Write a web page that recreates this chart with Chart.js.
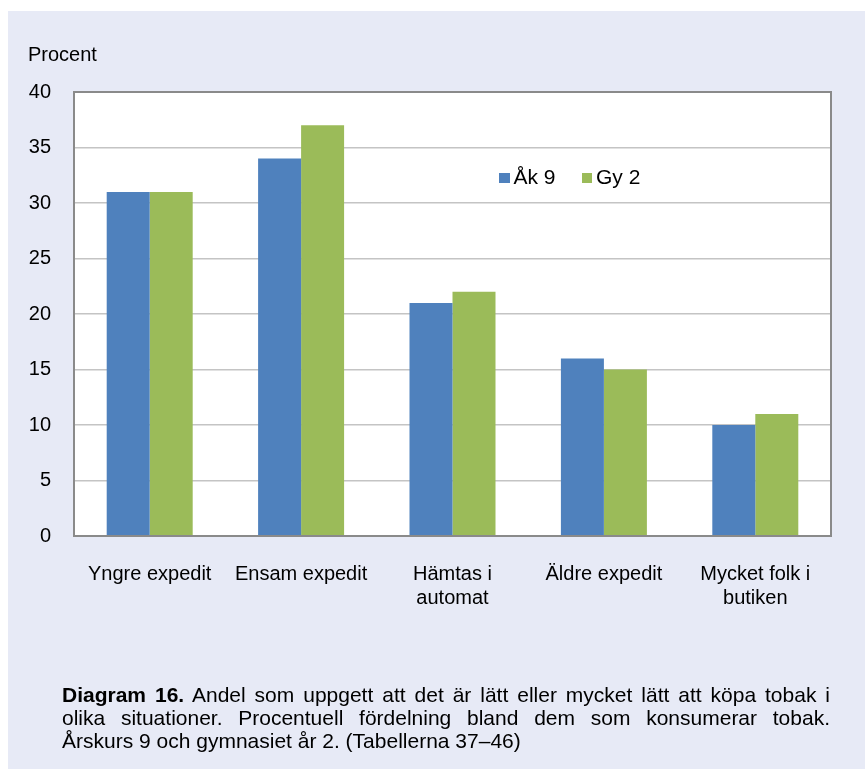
<!DOCTYPE html>
<html><head><meta charset="utf-8">
<script src="https://cdn.jsdelivr.net/npm/chart.js@4/dist/chart.umd.min.js"></script>
<style>
html,body{margin:0;padding:0;background:#fff;}
#wrap{position:relative;width:865px;height:769px;overflow:hidden;font-family:"Liberation Sans",Arial,sans-serif;color:#000;}
#bg{position:absolute;left:8px;top:11px;right:0;bottom:0;background:#E7EAF6;}
canvas{position:absolute;left:0;top:0;}
#ytitle{position:absolute;left:28px;top:44px;font-size:20px;line-height:20px;white-space:nowrap;}
#legend{position:absolute;left:499px;top:165.5px;font-size:21px;line-height:21px;display:flex;white-space:nowrap;}
#legend .item{display:flex;align-items:flex-start;margin-right:26px;}
#legend .sw{width:10.5px;height:10.5px;margin-top:7px;margin-right:4px;}
#cap{position:absolute;left:62px;top:682.5px;width:768px;font-size:21px;line-height:23.3px;}
#cap .j{text-align:justify;text-align-last:justify;}
</style></head>
<body>
<div id="wrap">
  <div id="bg"></div>
  <canvas id="c" width="865" height="769"></canvas>
  <div id="ytitle">Procent</div>
  <div id="legend"></div>
  <div id="cap">
    <div class="j"><b>Diagram 16.</b> Andel som uppgett att det är lätt eller mycket lätt att köpa tobak i</div>
    <div class="j">olika situationer. Procentuell fördelning bland dem som konsumerar tobak.</div>
    <div>Årskurs 9 och gymnasiet år 2. (Tabellerna 37–46)</div>
  </div>
</div>
<script>
// ---- data ----
const categories = [["Yngre expedit"], ["Ensam expedit"], ["Hämtas i", "automat"], ["Äldre expedit"], ["Mycket folk i", "butiken"]];
const seriesNames = ["Åk 9", "Gy 2"];
const ak9 = [31, 34, 21, 16, 10];
const gy2 = [31, 37, 22, 15, 11];
const yMin = 0, yMax = 40, yStep = 5;
const yTitle = "Procent";

// ---- styles ----
const colors = ["#4F81BD", "#9BBB59"];

// legend (HTML)
const leg = document.getElementById('legend');
seriesNames.forEach((n, i) => {
  const it = document.createElement('div'); it.className = 'item';
  const sw = document.createElement('div'); sw.className = 'sw'; sw.style.background = colors[i];
  const tx = document.createElement('span'); tx.textContent = n;
  it.appendChild(sw); it.appendChild(tx); leg.appendChild(it);
});
document.getElementById('ytitle').textContent = yTitle;

const plotFrame = {
  id: 'plotFrame',
  beforeDraw(chart) {
    const a = chart.chartArea, ctx = chart.ctx;
    ctx.save(); ctx.fillStyle = '#ffffff';
    ctx.fillRect(a.left, a.top, a.right - a.left, a.bottom - a.top);
    ctx.restore();
  },
  afterDatasetsDraw(chart) {
    const a = chart.chartArea, ctx = chart.ctx;
    ctx.save(); ctx.strokeStyle = '#8a8a8a'; ctx.lineWidth = 2;
    ctx.strokeRect(a.left, a.top, a.right - a.left, a.bottom - a.top);
    ctx.restore();
  }
};

Chart.defaults.font.family = "'Liberation Sans', Arial, sans-serif";
Chart.defaults.color = '#000';

new Chart(document.getElementById('c'), {
  type: 'bar',
  data: {
    labels: categories,
    datasets: [
      { label: seriesNames[0], data: ak9, backgroundColor: colors[0] },
      { label: seriesNames[1], data: gy2, backgroundColor: colors[1] }
    ]
  },
  options: {
    responsive: false,
    animation: false,
    devicePixelRatio: 1,
    layout: { padding: { left: 0, top: 92, right: 34, bottom: 0 } },
    datasets: { bar: { barPercentage: 1, categoryPercentage: 0.568 } },
    plugins: { legend: { display: false }, tooltip: { enabled: false } },
    scales: {
      x: {
        grid: { display: false, drawTicks: false },
        border: { display: false },
        ticks: { font: { size: 20, lineHeight: 1.175 }, padding: 27, maxRotation: 0, autoSkip: false, color: '#000' },
        afterFit(scale) { scale.height = 233; }
      },
      y: {
        min: yMin, max: yMax,
        grid: { color: '#c4c4c4', lineWidth: 1.5, drawTicks: false },
        border: { display: false },
        ticks: { stepSize: yStep, font: { size: 20 }, padding: 23, color: '#000' },
        afterFit(scale) { scale.width = 74; }
      }
    }
  },
  plugins: [plotFrame]
});
</script>
</body></html>
